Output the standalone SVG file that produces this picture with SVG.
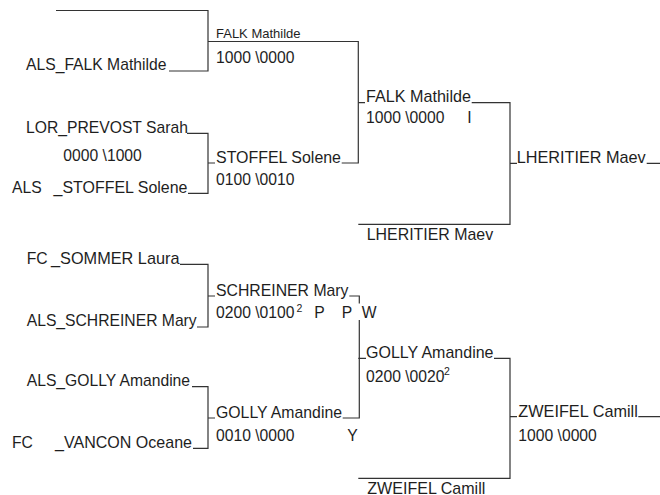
<svg xmlns="http://www.w3.org/2000/svg" width="660" height="495" viewBox="0 0 660 495">
<style>
text{font-family:"Liberation Sans",Arial,sans-serif;font-size:15.7px;fill:#1e1e1e}
.s{font-size:13px}
.sup{font-size:10.5px}
.c{fill:none;stroke:#333;stroke-width:1.2}
</style>
<rect width="660" height="495" fill="#fff"/>
<g id="connectors" class="c">
<path d="M56,10.5H208V71H169"/>
<path d="M187,133.3H208V193.3H188"/>
<path d="M180,264.3H208V327H197"/>
<path d="M192,386.7H208V448.3H193"/>
<path d="M208,41.5H358.3V163H341.7M208,163H215"/>
<path d="M208,296H215M349.3,296H359.3V303.5M359.3,320V418H342.7M208,418H215"/>
<path d="M358.3,102.7H365M471.7,102.7H510V224.3H358.3"/>
<path d="M358.3,358.3H366M494,358.3H510V478.3H358.3"/>
<path d="M510,163.3H517M646.7,163.3H660"/>
<path d="M510,416.7H517M638.3,416.7H660"/>
</g>
<g id="r1-falk"><text x="26" y="70">ALS_FALK Mathilde</text></g>
<g id="r1-prevost"><text x="26" y="132.5">LOR_PREVOST Sarah</text><text x="63.3" y="160.5">0000 \1000</text></g>
<g id="r1-stoffel"><text x="12" y="192.5">ALS</text><text x="53.5" y="192.5" textLength="134" lengthAdjust="spacingAndGlyphs">_STOFFEL Solene</text></g>
<g id="r1-sommer"><text x="26.7" y="263.5">FC</text><text x="51" y="263.5" textLength="128.5" lengthAdjust="spacingAndGlyphs">_SOMMER Laura</text></g>
<g id="r1-schreiner"><text x="26.7" y="326">ALS_SCHREINER Mary</text></g>
<g id="r1-golly"><text x="26.7" y="386">ALS_GOLLY Amandine</text></g>
<g id="r1-vancon"><text x="12" y="448">FC</text><text x="55" y="448" textLength="137" lengthAdjust="spacingAndGlyphs">_VANCON Oceane</text></g>
<g id="r2-falk"><text class="s" x="216" y="38">FALK Mathilde</text><text x="216" y="63">1000 \0000</text></g>
<g id="r2-stoffel"><text x="216" y="162.5" textLength="125" lengthAdjust="spacingAndGlyphs">STOFFEL Solene</text><text x="216" y="185">0100 \0010</text></g>
<g id="r2-schreiner"><text x="216" y="296" textLength="132.5" lengthAdjust="spacingAndGlyphs">SCHREINER Mary</text><text x="216" y="318">0200 \0100</text><text class="sup" x="296.5" y="311.5">2</text><text x="314.3" y="318">P</text><text x="341.7" y="318">P</text><text x="361.7" y="318">W</text></g>
<g id="r2-golly"><text x="216" y="418" textLength="126" lengthAdjust="spacingAndGlyphs">GOLLY Amandine</text><text x="216" y="440.5">0010 \0000</text><text x="347.3" y="440.5">Y</text></g>
<g id="r3-falk"><text x="366" y="102" textLength="105" lengthAdjust="spacingAndGlyphs">FALK Mathilde</text><text x="366" y="123">1000 \0000</text><text x="467.3" y="123">I</text></g>
<g id="r3-lheritier"><text x="366.7" y="239.5" textLength="126.5" lengthAdjust="spacingAndGlyphs">LHERITIER Maev</text></g>
<g id="r3-golly"><text x="366" y="358" textLength="127.5" lengthAdjust="spacingAndGlyphs">GOLLY Amandine</text><text x="366" y="381.5">0200 \0020</text><text class="sup" x="444" y="375">2</text></g>
<g id="r3-zweifel"><text x="367.3" y="493.5" textLength="118" lengthAdjust="spacingAndGlyphs">ZWEIFEL Camill</text></g>
<g id="r4-lheritier"><text x="516.7" y="163" textLength="129" lengthAdjust="spacingAndGlyphs">LHERITIER Maev</text></g>
<g id="r4-zweifel"><text x="518.3" y="416.5" textLength="119.5" lengthAdjust="spacingAndGlyphs">ZWEIFEL Camill</text><text x="518.3" y="441">1000 \0000</text></g>
</svg>
